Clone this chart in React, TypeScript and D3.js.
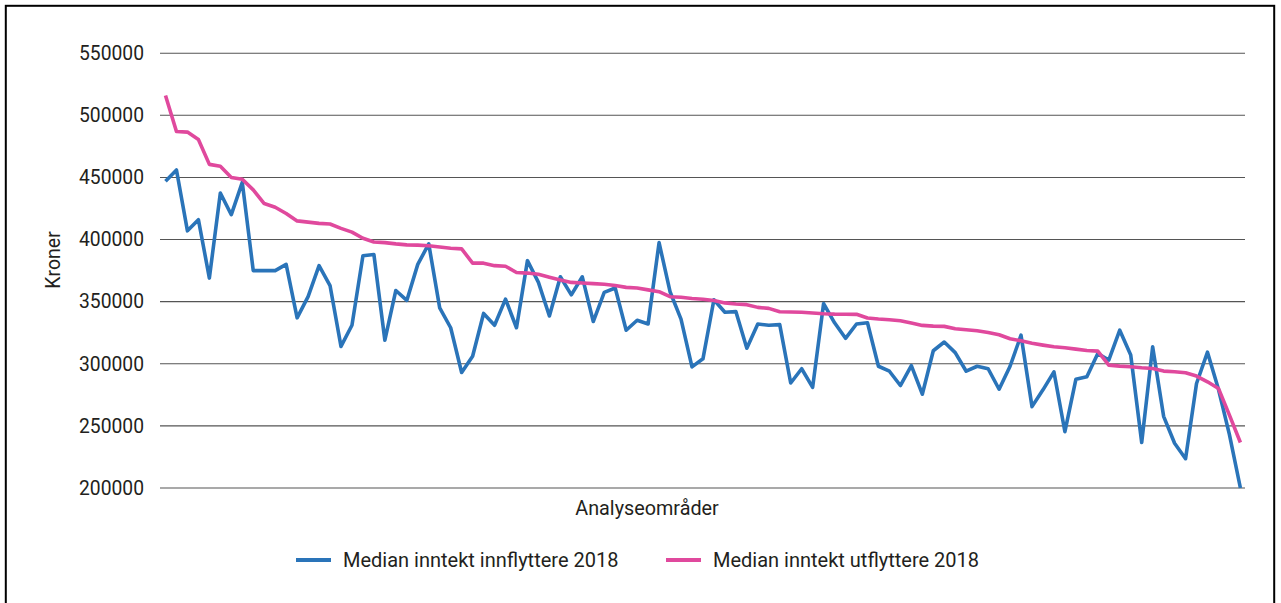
import React, { useEffect } from "react";
import * as d3 from "d3";

// Analysis areas (unnamed in the source) — one per point
const categories: string[] = Array.from({ length: 99 }, (_, i) => `Område ${i + 1}`);

const innflyttere: number[] = [
  447000, 456000, 407000, 416000, 369000, 437500, 420000, 446000, 375000, 375000,
  375000, 380000, 337000, 354000, 379000, 363000, 314000, 331000, 387000, 388000,
  319000, 359000, 351000, 380000, 396500, 345000, 329000, 293000, 306000, 340500,
  331000, 352000, 329000, 383000, 365500, 338500, 370000, 355500, 370000, 334000,
  357500, 361000, 327000, 335000, 332000, 397500, 358000, 336000, 297500, 304000,
  351500, 341500, 342000, 312500, 332000, 331000, 331500, 284500, 296000, 281000,
  348500, 333000, 320500, 332000, 333000, 298000, 294000, 282500, 298500, 275500,
  310500, 317500, 309000, 294000, 298000, 296000, 279500, 298000, 323000, 265500,
  279000, 293500, 245300, 287500, 289500, 308300, 303000, 327000, 307000, 236600,
  313600, 257700, 236000, 223600, 284100, 309300, 279500, 243000, 200000,
];

const utflyttere: number[] = [
  516000, 487000, 486500, 480500, 460500, 459000, 450000, 448500, 440000, 429000,
  426000, 421000, 415000, 414000, 413000, 412500, 409000, 406000, 401000, 398000,
  397500, 396500, 395700, 395500, 395000, 394000, 393000, 392500, 381000, 381000,
  379000, 378500, 373500, 373000, 372000, 369700, 367500, 365500, 365000, 364500,
  364000, 363000, 361500, 361000, 359500, 358000, 354000, 353500, 352500, 352000,
  351000, 349000, 348100, 347600, 345400, 344600, 341900, 341700, 341500, 340900,
  340300, 340000, 339900, 339800, 336800, 336000, 335400, 334600, 332800, 330900,
  330300, 330100, 328200, 327400, 326600, 325200, 323400, 320100, 318500, 316500,
  315000, 313700, 312900, 311800, 310700, 310200, 298900, 298100, 297600, 296800,
  296200, 294100, 293600, 292800, 290100, 285500, 280100, 258700, 236600,
];

const yTicks: number[] = [200000, 250000, 300000, 350000, 400000, 450000, 500000, 550000];

const seriesNames: string[] = ["Median inntekt innflyttere 2018", "Median inntekt utflyttere 2018"];
const seriesColors: string[] = ["#2a74b9", "#e0499d"];

const W = 1281;
const H = 603;
const FONT = "Roboto, 'Noto Sans', sans-serif";
const TEXT = "#231f20";

export default function App() {
  useEffect(() => {
    document.body.style.margin = "0";
    document.body.style.overflow = "hidden";
  }, []);

  const x = d3
    .scalePoint<string>()
    .domain(categories)
    .range([165.5, 1240.4]);
  const y = d3.scaleLinear().domain([200000, 550000]).range([488, 53.2]);

  const line = d3
    .line<number>()
    .x((_, i) => x(categories[i]) as number)
    .y((d) => y(d));

  const series = [innflyttere, utflyttere];

  return (
    <svg
      width={W}
      height={H}
      style={{ position: "absolute", left: 0, top: 0, background: "#fff" }}
      fontFamily={FONT}
    >
      <rect x={0} y={0} width={W} height={H} fill="#fff" />
      <rect x={5.8} y={5.8} width={1268.4} height={620} fill="none" stroke="#000" strokeWidth={2} />

      {yTicks.map((t) => (
        <g key={t}>
          <line x1={160} x2={1245} y1={y(t)} y2={y(t)} stroke="#555" strokeWidth={1.1} />
          <text
            x={144}
            y={y(t)}
            dy="0.35em"
            textAnchor="end"
            fontSize={19.3}
            fill={TEXT}
          >
            {t}
          </text>
        </g>
      ))}

      {series.map((s, k) => (
        <path
          key={k}
          d={line(s) as string}
          fill="none"
          stroke={seriesColors[k]}
          strokeWidth={3.6}
          strokeLinejoin="round"
          strokeLinecap="butt"
        />
      ))}

      <text
        transform="translate(60,260) rotate(-90)"
        textAnchor="middle"
        fontSize={19.5}
        fill={TEXT}
      >
        Kroner
      </text>

      <text x={647} y={508} dy="0.35em" textAnchor="middle" fontSize={19.8} fill={TEXT}>
        Analyseområder
      </text>

      {seriesNames.map((name, k) => {
        const x0 = k === 0 ? 296 : 666;
        return (
          <g key={name}>
            <line x1={x0} x2={x0 + 35} y1={560} y2={560} stroke={seriesColors[k]} strokeWidth={4} />
            <text x={x0 + 47} y={560} dy="0.35em" fontSize={20} fill={TEXT}>
              {name}
            </text>
          </g>
        );
      })}
    </svg>
  );
}
